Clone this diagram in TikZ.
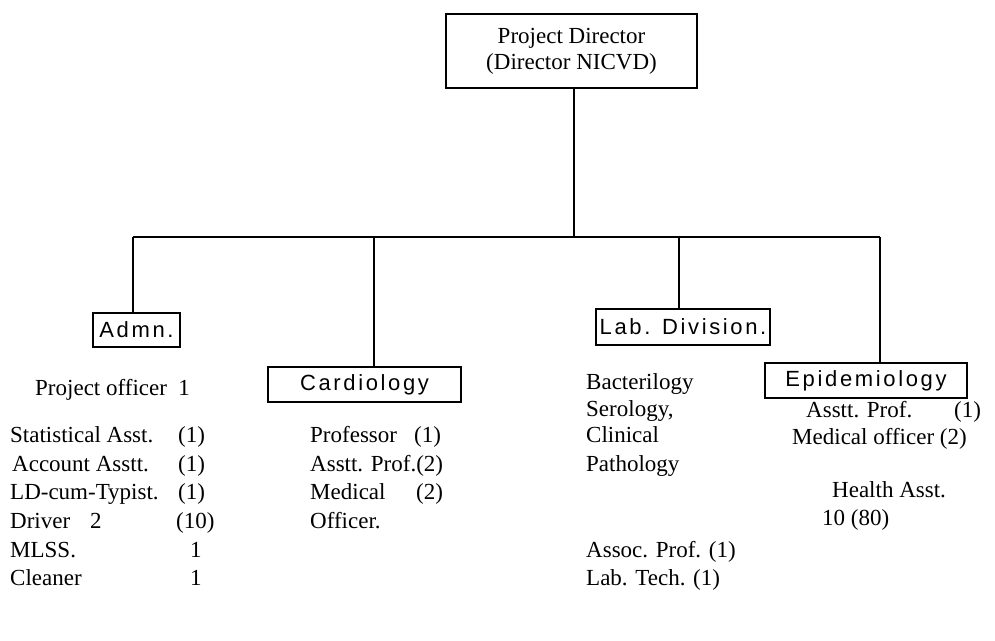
\documentclass[tikz,border=0pt]{standalone}
\usepackage{fontspec}
\setmainfont{Liberation Serif}
\newfontfamily\boxfont[LetterSpace=12]{Liberation Sans}
\tikzset{
  lbl/.style={draw, line width=1.6pt, inner sep=0pt, font=\boxfont\fontsize{22}{26}\selectfont},
  txt/.style={anchor=base west, inner sep=0pt, font=\fontsize{23}{28}\selectfont},
  conn/.style={line width=1.7pt}
}
\begin{document}
\begin{tikzpicture}[x=1pt,y=-1pt]
\useasboundingbox (0,0) rectangle (995,640);
% boxes
\node[draw, line width=1.6pt, inner sep=0pt, minimum width=251pt, minimum height=74pt, align=center,
      font=\fontsize{23}{26}\selectfont] (top) at (571.5,51) {Project Director\\(Director NICVD)};
\node[lbl, minimum width=87pt, minimum height=34pt] (admn) at (136.5,330) {Admn.};
\node[lbl, minimum width=193pt, minimum height=35pt] (cardio) at (364.5,384.5) {Cardiology};
\node[lbl, minimum width=174pt, minimum height=36pt] (lab) at (683,327) {Lab. Division.};
\node[lbl, minimum width=202pt, minimum height=35pt] (epi) at (866,380.5) {Epidemiology};
% bus coordinates
\coordinate (bt) at (574,237);
\coordinate (b1) at (133,237);
\coordinate (b2) at (374,237);
\coordinate (b3) at (679,237);
\coordinate (b4) at (880,237);
\draw[conn] (top.south -| bt) -- (bt);
\draw[conn] (b1) -- (b4);
\draw[conn] (b1) -- (b1 |- admn.north);
\draw[conn] (b2) -- (b2 |- cardio.north);
\draw[conn] (b3) -- (b3 |- lab.north);
\draw[conn] (b4) -- (b4 |- epi.north);
% Admn texts
\node[txt] (po) at (35,395) {Project officer\ \ 1};
\node[txt] (a1) at (10,442) {\makebox[168pt][l]{Statistical Asst.}(1)};
\node[txt] (a2) at (12,471) {\makebox[166pt][l]{Account Asstt.}(1)};
\node[txt] (a3) at (10,499) {\makebox[168pt][l]{LD-cum-Typist.}(1)};
\node[txt] (a4) at (10,528) {\makebox[80pt][l]{Driver}\makebox[86pt][l]{2}(10)};
\node[txt] (a5) at (10,557) {\makebox[180pt][l]{MLSS.}1};
\node[txt] (a6) at (10,585) {\makebox[180pt][l]{Cleaner}1};
% Cardiology texts
\node[txt] (c1) at (310,442) {\makebox[104pt][l]{Professor}(1)};
\node[txt] (c2) at (310,471) {Asstt. Prof.(2)};
\node[txt] (c3) at (310,499) {\makebox[106pt][l]{Medical}(2)};
\node[txt] (c4) at (310,528) {Officer.};
% Lab texts
\node[txt] (l1) at (586,389) {Bacterilogy};
\node[txt] (l2) at (586,416) {Serology,};
\node[txt] (l3) at (586,442) {Clinical};
\node[txt] (l4) at (586,471) {Pathology};
\node[txt] (l5) at (586,557) {Assoc. Prof. (1)};
\node[txt] (l6) at (586,585) {Lab. Tech. (1)};
% Epidemiology texts
\node[txt] (e1) at (806,417) {\makebox[148pt][l]{Asstt. Prof.}(1)};
\node[txt] (e2) at (792,444) {Medical officer (2)};
\node[txt] (e3) at (832,497) {Health Asst.};
\node[txt] (e4) at (822,525) {10 (80)};
\end{tikzpicture}
\end{document}
